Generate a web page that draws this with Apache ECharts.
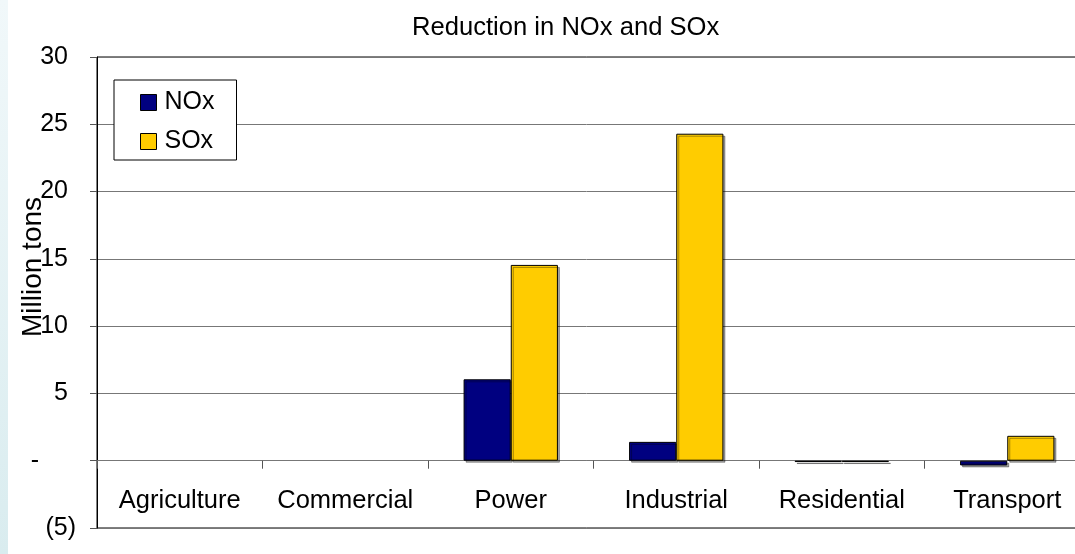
<!DOCTYPE html>
<html>
<head>
<meta charset="utf-8">
<title>Reduction in NOx and SOx</title>
<script src="https://cdn.jsdelivr.net/npm/echarts@6/dist/echarts.min.js"></script>
<style>
  html, body { margin: 0; padding: 0; background: #ffffff; }
  #chart { width: 1075px; height: 554px; }
</style>
</head>
<body>
<div id="chart"></div>
<script>
// Sectors on the category axis
const sectors = ['Agriculture', 'Commercial', 'Power', 'Industrial', 'Residential', 'Transport'];
// Reductions, million tons
const noxValues = [0, 0, 6.05, 1.4, -0.1, -0.35];
const soxValues = [0, 0, 14.55, 24.3, -0.1, 1.85];
// Value axis ticks
const yTicks = [-5, 0, 5, 10, 15, 20, 25, 30];

const FONT = '"Liberation Sans", Arial, sans-serif';

// Accounting-style tick labels: positives padded for the closing paren,
// zero shown as a dash, negatives in parentheses
function tickLabel(v) {
  if (v === 0) return '{dash|-}';
  if (v < 0) return '{neg|(' + Math.abs(v) + ')}';
  return '{pos|' + v + '}';
}

// Zero values get no outline so empty sectors stay blank on the zero line
function barData(values) {
  return values.map((v) => (v === 0 ? { value: v, itemStyle: { borderWidth: 0, shadowOffsetX: 0, shadowOffsetY: 0 } } : v));
}

const chart = echarts.init(document.getElementById('chart'), null, { renderer: 'canvas' });

const barStyle = (color) => ({
  color: color,
  borderColor: '#000000',
  borderWidth: 1,
  shadowColor: 'rgba(0,0,0,0.35)',
  shadowOffsetX: 2,
  shadowOffsetY: 2,
  shadowBlur: 0
});

const tickText = { fontFamily: FONT, fontSize: 25, color: '#000000' };

chart.setOption({
  animation: false,
  backgroundColor: '#ffffff',
  textStyle: { fontFamily: FONT },
  graphic: [
    {
      type: 'rect',
      left: 0, top: 0,
      shape: { width: 8, height: 554 },
      style: {
        fill: new echarts.graphic.LinearGradient(0, 0, 0, 1, [
          { offset: 0, color: '#f1f8fa' },
          { offset: 1, color: '#d9ecef' }
        ])
      },
      silent: true
    },
    {
      type: 'text',
      x: 33, y: 267,
      rotation: Math.PI / 2,
      style: {
        text: 'Million tons',
        font: '28px ' + FONT,
        fill: '#000000',
        align: 'center',
        verticalAlign: 'middle'
      }
    }
  ],
  title: {
    text: 'Reduction in NOx and SOx',
    left: 412,
    top: 15,
    padding: 0,
    textStyle: { fontFamily: FONT, fontSize: 25.6, fontWeight: 'normal', color: '#000000' }
  },
  legend: {
    orient: 'vertical',
    left: 114,
    top: 80,
    padding: [10, 22, 6, 26],
    itemGap: 14,
    itemWidth: 16,
    itemHeight: 16,
    icon: 'rect',
    backgroundColor: '#ffffff',
    borderColor: '#000000',
    borderWidth: 1,
    borderRadius: 0,
    itemStyle: { borderColor: '#000000', borderWidth: 1, shadowBlur: 0, shadowOffsetX: 0, shadowOffsetY: 0 },
    textStyle: { fontFamily: FONT, fontSize: 25, color: '#000000', padding: [0, 0, 0, 3] },
    data: ['NOx', 'SOx']
  },
  grid: {
    left: 97,
    top: 57,
    width: 993,
    height: 471,
    show: true,
    borderColor: '#000000',
    borderWidth: 1,
    backgroundColor: 'transparent',
    containLabel: false,
    outerBoundsMode: 'none'
  },
  xAxis: {
    type: 'category',
    data: sectors,
    boundaryGap: true,
    axisLine: { onZero: true, lineStyle: { color: '#777777', width: 1 } },
    axisTick: { show: true, inside: false, length: 8, interval: 0, alignWithLabel: false, lineStyle: { color: '#555555' } },
    axisLabel: { interval: 0, margin: -40, fontFamily: FONT, fontSize: 25.5, color: '#000000', hideOverlap: false },
    splitLine: { show: false }
  },
  yAxis: {
    type: 'value',
    min: -5,
    max: 30,
    interval: 5,
    axisLine: { show: true, lineStyle: { color: '#000000', width: 1 } },
    axisTick: { show: true, inside: false, length: 7, lineStyle: { color: '#555555' } },
    axisLabel: {
      margin: 21,
      fontFamily: FONT,
      fontSize: 25,
      color: '#000000',
      formatter: (v) => (yTicks.indexOf(v) >= 0 ? tickLabel(v) : ''),
      rich: {
        pos: Object.assign({ padding: [0, 8, 0, 0] }, tickText),
        dash: Object.assign({ padding: [0, 37, 0, 0] }, tickText),
        neg: Object.assign({}, tickText)
      }
    },
    splitLine: { show: true, lineStyle: { color: '#777777', width: 1 } }
  },
  series: [
    {
      name: 'NOx',
      type: 'bar',
      data: barData(noxValues),
      barGap: '0%',
      barCategoryGap: '43%',
      itemStyle: barStyle('#000080')
    },
    {
      name: 'SOx',
      type: 'bar',
      data: barData(soxValues),
      barGap: '0%',
      barCategoryGap: '43%',
      itemStyle: barStyle('#FFCC00')
    }
  ]
});
</script>
</body>
</html>
